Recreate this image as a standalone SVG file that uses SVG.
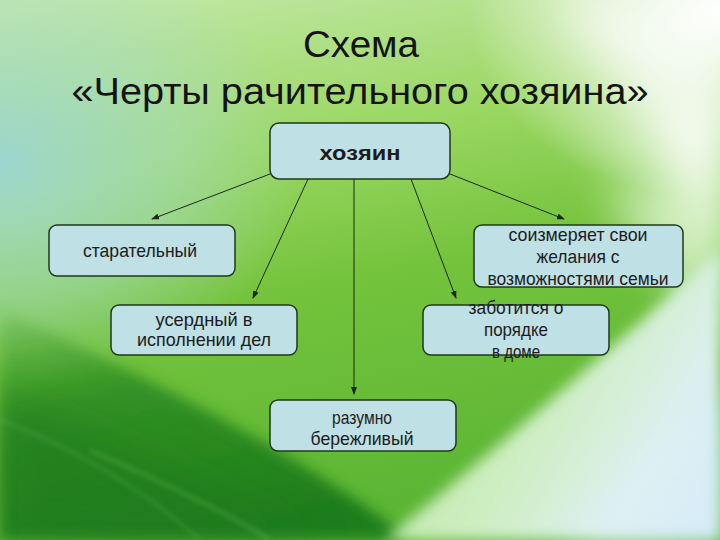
<svg xmlns="http://www.w3.org/2000/svg" width="720" height="540" viewBox="0 0 720 540">
<defs>
<linearGradient id="bg" x1="0" y1="0" x2="0.25" y2="1">
<stop offset="0" stop-color="#c6e9ac"/>
<stop offset="0.35" stop-color="#9ad762"/>
<stop offset="0.6" stop-color="#74c33c"/>
<stop offset="1" stop-color="#5cb634"/>
</linearGradient>
<radialGradient id="tl" cx="0" cy="0.3" r="0.42">
<stop offset="0" stop-color="#9cd6d4" stop-opacity="0.95"/>
<stop offset="0.6" stop-color="#a8dcc8" stop-opacity="0.5"/>
<stop offset="1" stop-color="#a8dcc8" stop-opacity="0"/>
</radialGradient>
<radialGradient id="tr" cx="1" cy="0.02" r="0.35">
<stop offset="0" stop-color="#ffffff" stop-opacity="1"/>
<stop offset="0.5" stop-color="#f4faf0" stop-opacity="0.7"/>
<stop offset="1" stop-color="#ffffff" stop-opacity="0"/>
</radialGradient>
<linearGradient id="dark" x1="0" y1="0" x2="0.5" y2="1">
<stop offset="0" stop-color="#3a9a2a" stop-opacity="0.1"/>
<stop offset="0.4" stop-color="#2c8c22" stop-opacity="0.9"/>
<stop offset="1" stop-color="#1f7e1c" stop-opacity="1"/>
</linearGradient>
<linearGradient id="light" x1="0" y1="0.2" x2="1" y2="0.7">
<stop offset="0" stop-color="#b6e398"/>
<stop offset="0.5" stop-color="#cdeec0"/>
<stop offset="0.85" stop-color="#dcf0ee"/>
<stop offset="1" stop-color="#cfe8f8"/>
</linearGradient>
<linearGradient id="rside" x1="0" y1="0" x2="1" y2="0">
<stop offset="0" stop-color="#d0eebc" stop-opacity="0"/>
<stop offset="1" stop-color="#e2f5d6" stop-opacity="0.95"/>
</linearGradient>
<filter id="blur" x="-0.3" y="-0.3" width="1.6" height="1.6"><feGaussianBlur stdDeviation="20"/></filter>
<filter id="blur2" x="-0.2" y="-0.2" width="1.4" height="1.4"><feGaussianBlur stdDeviation="7"/></filter>
<filter id="blur3" x="-0.2" y="-0.2" width="1.4" height="1.4"><feGaussianBlur stdDeviation="2.5"/></filter>
<marker id="arr" markerWidth="8" markerHeight="6" refX="7" refY="3" orient="auto" markerUnits="userSpaceOnUse">
<path d="M0,0 L8,3 L0,6 Z" fill="#1a2a18"/>
</marker>
<style>
.box{fill:#bfe0e4;stroke:#1e3a1a;stroke-width:1.5}
.t{font-family:"Liberation Sans",Arial,sans-serif;font-size:19px;fill:#1c1c1c;text-anchor:middle}
.title{font-family:"Liberation Sans",Arial,sans-serif;font-size:36px;fill:#141414;text-anchor:middle}
.c{stroke:#1a2a18;stroke-width:1;fill:none;marker-end:url(#arr)}
</style>
</defs>
<g id="background">
<rect width="720" height="540" fill="url(#bg)"/>
<rect width="720" height="540" fill="url(#tl)"/>
<path d="M540,120 C620,180 690,250 720,290 L720,100 Z" fill="url(#rside)" filter="url(#blur)"/>
<path d="M600,200 C660,260 700,320 720,360 L720,180 Z" fill="#d6f0c4" opacity="0.8" filter="url(#blur)"/>
<path d="M0,310 C110,360 300,450 410,540 L0,540 Z" fill="url(#dark)" filter="url(#blur2)"/>
<path d="M0,390 C90,430 230,490 320,540 L0,540 Z" fill="#1c781a" opacity="0.55" filter="url(#blur)"/>
<path d="M90,450 C170,485 240,520 270,540" stroke="#7fcf6a" stroke-width="3" fill="none" opacity="0.35" filter="url(#blur3)"/>
<path d="M0,420 C80,450 150,495 200,540" stroke="#7fcf6a" stroke-width="2" fill="none" opacity="0.3" filter="url(#blur3)"/>
<path d="M385,540 C470,470 600,360 720,250 L720,540 Z" fill="url(#light)" filter="url(#blur2)"/>
<path d="M560,540 C620,480 680,420 720,380 L720,540 Z" fill="#dff0f6" opacity="0.7" filter="url(#blur)"/>
<path d="M560,0 C630,70 690,180 720,250 L720,0 Z" fill="#ffffff" opacity="0.7" filter="url(#blur)"/>
<rect width="720" height="540" fill="url(#tr)"/>
</g>
<g id="title">
<text class="title" x="361" y="57" textLength="116" lengthAdjust="spacingAndGlyphs">Схема</text>
<text class="title" x="360" y="104" textLength="577" lengthAdjust="spacingAndGlyphs">«Черты рачительного хозяина»</text>
</g>
<g id="connectors">
<line class="c" x1="270" y1="174" x2="152" y2="219"/>
<line class="c" x1="308" y1="179" x2="253" y2="298"/>
<line class="c" x1="354" y1="179" x2="354" y2="394"/>
<line class="c" x1="411" y1="179" x2="456" y2="298"/>
<line class="c" x1="450" y1="174" x2="564" y2="219"/>
</g>
<g id="node-hozyain">
<rect class="box" x="270" y="123" width="180" height="56" rx="9"/>
<text class="t" x="360" y="160" textLength="81" lengthAdjust="spacingAndGlyphs" style="font-weight:bold;font-size:20px">хозяин</text>
</g>
<g id="node-staratelny">
<rect class="box" x="49" y="225" width="186" height="51" rx="8"/>
<text class="t" x="140" y="257" textLength="114" lengthAdjust="spacingAndGlyphs">старательный</text>
</g>
<g id="node-soizmeryaet">
<rect class="box" x="474" y="225" width="209" height="62" rx="8"/>
<text class="t" x="578" y="241" textLength="139" lengthAdjust="spacingAndGlyphs">соизмеряет свои</text>
<text class="t" x="578" y="263" textLength="83" lengthAdjust="spacingAndGlyphs">желания с</text>
<text class="t" x="578" y="285" textLength="181" lengthAdjust="spacingAndGlyphs">возможностями семьи</text>
</g>
<g id="node-userdny">
<rect class="box" x="111" y="305" width="186" height="50" rx="8"/>
<text class="t" x="204" y="326" textLength="97" lengthAdjust="spacingAndGlyphs">усердный в</text>
<text class="t" x="204" y="346" textLength="134" lengthAdjust="spacingAndGlyphs">исполнении дел</text>
</g>
<g id="node-zabotitsya">
<rect class="box" x="423" y="305" width="186" height="50" rx="8"/>
<text class="t" x="516" y="314" textLength="95" lengthAdjust="spacingAndGlyphs">заботится о</text>
<text class="t" x="516" y="336" textLength="64" lengthAdjust="spacingAndGlyphs">порядке</text>
<text class="t" x="516" y="358" textLength="48" lengthAdjust="spacingAndGlyphs">в доме</text>
</g>
<g id="node-razumno">
<rect class="box" x="270" y="400" width="186" height="51" rx="8"/>
<text class="t" x="362" y="424" textLength="60" lengthAdjust="spacingAndGlyphs">разумно</text>
<text class="t" x="362" y="445" textLength="103" lengthAdjust="spacingAndGlyphs">бережливый</text>
</g>
</svg>
